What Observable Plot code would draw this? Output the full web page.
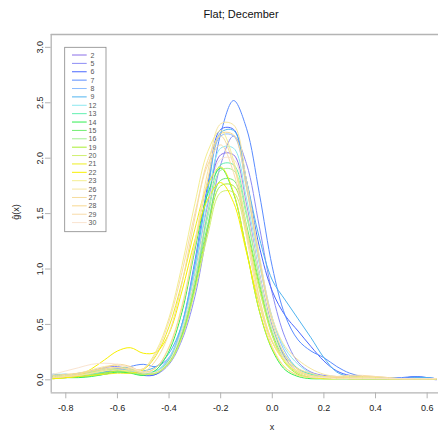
<!DOCTYPE html>
<html><head><meta charset="utf-8">
<script src="https://cdn.jsdelivr.net/npm/d3@7"></script>
<script src="https://cdn.jsdelivr.net/npm/@observablehq/plot@0.6"></script>
<style>
html,body{margin:0;padding:0;background:#fff;overflow:hidden}
</style></head><body><div id="chart"></div>
<script>
const xs = [-0.85,-0.8,-0.75,-0.7,-0.65,-0.6,-0.55,-0.5,-0.45,-0.4,-0.35,-0.3,-0.25,-0.2,-0.15,-0.1,-0.05,0,0.05,0.1,0.15,0.2,0.25,0.3,0.35,0.4,0.45,0.5,0.55,0.6,0.635];

const g2  = [0.02,0.02,0.03,0.05,0.07,0.08,0.07,0.05,0.06,0.18,0.45,0.96,1.58,2.03,2.03,1.58,0.96,0.48,0.2,0.07,0.03,0.02,0.02,0.03,0.02,0.01,0.01,0.01,0.02,0.01,0.01];
const g5  = [0.03,0.04,0.05,0.08,0.11,0.12,0.09,0.05,0.05,0.14,0.36,0.75,1.36,1.94,2.2,1.95,1.38,0.78,0.38,0.16,0.07,0.04,0.03,0.03,0.02,0.01,0.01,0.01,0.01,0.01,0.0];
const g6  = [0.05,0.04,0.03,0.04,0.07,0.1,0.08,0.04,0.05,0.17,0.5,1.07,1.76,2.26,2.26,1.8,1.2,0.8,0.58,0.44,0.3,0.17,0.08,0.04,0.03,0.02,0.01,0.01,0.03,0.02,0.01];
const g7  = [0.04,0.05,0.04,0.04,0.05,0.08,0.12,0.14,0.12,0.2,0.4,0.84,1.55,2.22,2.52,2.27,1.68,1.02,0.58,0.36,0.26,0.2,0.12,0.06,0.03,0.02,0.02,0.02,0.03,0.02,0.01];
const g8  = [0.02,0.03,0.05,0.07,0.09,0.1,0.08,0.06,0.08,0.2,0.5,1.04,1.71,2.2,2.2,1.74,1.1,0.56,0.25,0.1,0.05,0.03,0.02,0.02,0.01,0.01,0.01,0.01,0.01,0.01,0.01];
const g9  = [0.03,0.04,0.06,0.08,0.1,0.09,0.07,0.08,0.12,0.24,0.5,1.02,1.72,2.23,2.25,1.8,1.28,0.9,0.72,0.55,0.38,0.2,0.07,0.03,0.02,0.02,0.02,0.01,0.02,0.02,0.01];
const g12 = [0.05,0.05,0.04,0.04,0.05,0.07,0.08,0.07,0.08,0.19,0.47,0.99,1.62,2.09,2.09,1.64,1.04,0.55,0.28,0.14,0.06,0.03,0.02,0.02,0.01,0.01,0.01,0.01,0.01,0.01,0.01];
const g13 = [0.01,0.02,0.03,0.05,0.07,0.07,0.06,0.05,0.07,0.18,0.44,0.93,1.52,1.94,1.94,1.52,0.94,0.47,0.22,0.1,0.05,0.03,0.02,0.01,0.01,0.01,0.01,0.01,0.01,0.01,0.01];
const g14 = [0.02,0.02,0.02,0.03,0.05,0.07,0.06,0.04,0.09,0.26,0.61,1.17,1.68,1.91,1.68,1.17,0.62,0.27,0.09,0.03,0.01,0.01,0.01,0.01,0.01,0.01,0.01,0.01,0.01,0.01,0.01];
const g15 = [0.03,0.03,0.04,0.06,0.09,0.11,0.1,0.07,0.06,0.16,0.41,0.86,1.4,1.8,1.8,1.4,0.87,0.42,0.18,0.07,0.03,0.02,0.01,0.01,0.01,0.01,0.01,0.01,0.01,0.01,0.01];
const g16 = [0.04,0.04,0.04,0.05,0.06,0.08,0.09,0.07,0.06,0.17,0.43,0.9,1.47,1.89,1.89,1.48,0.92,0.45,0.19,0.07,0.03,0.02,0.02,0.01,0.01,0.01,0.01,0.01,0.01,0.01,0.01];
const g19 = [0.02,0.02,0.03,0.04,0.06,0.08,0.07,0.05,0.06,0.15,0.39,0.83,1.36,1.75,1.75,1.36,0.84,0.4,0.15,0.05,0.02,0.01,0.01,0.01,0.01,0.01,0.01,0.01,0.01,0.01,0.01];
const g20 = [0.02,0.03,0.05,0.07,0.09,0.09,0.07,0.05,0.06,0.15,0.38,0.8,1.31,1.69,1.69,1.31,0.81,0.4,0.16,0.06,0.03,0.02,0.02,0.02,0.03,0.02,0.01,0.01,0.01,0.01,0.01];
const g21 = [0.01,0.02,0.03,0.04,0.05,0.06,0.06,0.09,0.22,0.48,0.88,1.36,1.76,1.92,1.69,1.17,0.62,0.28,0.11,0.04,0.02,0.01,0.01,0.02,0.03,0.02,0.01,0.01,0.01,0.01,0.01];
const g22 = [0.01,0.02,0.04,0.1,0.18,0.26,0.29,0.24,0.25,0.42,0.8,1.26,1.63,1.78,1.6,1.15,0.68,0.34,0.16,0.07,0.03,0.02,0.02,0.01,0.01,0.01,0.01,0.01,0.01,0.01,0.01];
const g23 = [0.02,0.03,0.04,0.06,0.08,0.09,0.08,0.1,0.26,0.56,1.03,1.59,2.06,2.25,1.98,1.37,0.74,0.34,0.16,0.08,0.04,0.03,0.03,0.03,0.02,0.01,0.01,0.01,0.01,0.01,0.01];
const g26 = [0.03,0.04,0.06,0.09,0.12,0.13,0.11,0.06,0.11,0.3,0.67,1.24,1.88,2.31,2.3,1.8,1.12,0.56,0.3,0.18,0.1,0.05,0.03,0.02,0.02,0.02,0.01,0.01,0.01,0.01,0.01];
const g27 = [0.02,0.03,0.05,0.08,0.1,0.11,0.09,0.07,0.18,0.42,0.87,1.46,1.98,2.2,1.94,1.36,0.74,0.35,0.18,0.1,0.06,0.03,0.02,0.02,0.03,0.03,0.02,0.01,0.01,0.01,0.01];
const g28 = [0.04,0.05,0.06,0.08,0.11,0.14,0.12,0.07,0.11,0.29,0.65,1.2,1.81,2.22,2.21,1.73,1.07,0.52,0.22,0.09,0.04,0.02,0.02,0.01,0.01,0.01,0.01,0.01,0.01,0.01,0.01];
const g29 = [0.02,0.03,0.04,0.06,0.09,0.11,0.1,0.1,0.24,0.53,0.97,1.5,1.94,2.12,1.87,1.29,0.69,0.3,0.11,0.04,0.02,0.02,0.03,0.04,0.04,0.03,0.02,0.01,0.01,0.01,0.01];
const g30 = [0.05,0.08,0.11,0.14,0.15,0.14,0.11,0.07,0.07,0.17,0.45,0.94,1.55,1.99,1.99,1.55,0.95,0.46,0.18,0.07,0.03,0.02,0.01,0.01,0.01,0.01,0.01,0.01,0.01,0.01,0.01];

const seriesNames = ["2","5","6","7","8","9","12","13","14","15","16","19","20","21","22","23","26","27","28","29","30"];
const seriesValues = [g2,g5,g6,g7,g8,g9,g12,g13,g14,g15,g16,g19,g20,g21,g22,g23,g26,g27,g28,g29,g30];
const seriesColors = ["#8a6ee8","#8c8cf5","#4a68ff","#5a8cff","#8cbcff","#50b4f0","#8ce8f0","#60f0b0","#30ee50","#70ee70","#a0f090","#a8ee30","#d0f070","#eeee20","#f8f000","#f4ee90","#f6e6a0","#f6dc9c","#f8d890","#f8dca8","#fae4d0"];

const xTicks = [-0.8,-0.6,-0.4,-0.2,0,0.2,0.4,0.6];
const yTicks = [0,0.5,1,1.5,2,2.5,3];
const titleText = "Flat; December";
const xLabel = "x";
const yLabel = "ĝ(x)";

const rows = [];
seriesNames.forEach((s, i) => seriesValues[i].forEach((v, j) => rows.push({s, x: xs[j], y: v})));

const xDomain = [-0.8566, 0.644];
const yDomain = [-0.117, 3.116];
const font = "'Liberation Sans', Arial, Helvetica, sans-serif";
const axisGray = "#b4b4b4";

const svg = Plot.plot({
  width: 438, height: 433,
  marginLeft: 50.7, marginRight: 0, marginTop: 34, marginBottom: 40.7,
  style: {fontFamily: font, background: "#fff", color: "#222", overflow: "visible"},
  x: {domain: xDomain},
  y: {domain: yDomain},
  color: {domain: seriesNames, range: seriesColors},
  marks: [
    Plot.line(rows, {x: "x", y: "y", z: "s", stroke: "s", strokeWidth: 1, curve: "catmull-rom"}),
    Plot.ruleX([xDomain[0]], {stroke: axisGray, strokeWidth: 1.3}),
    Plot.ruleY([yDomain[1]], {stroke: axisGray, strokeWidth: 1.3}),
    Plot.ruleY([yDomain[0]], {stroke: axisGray, strokeWidth: 1.3}),
    Plot.axisX({ticks: xTicks, tickSize: 6, tickPadding: 6, tickFormat: d => d.toFixed(1), fontSize: 9, stroke: axisGray, label: null}),
    Plot.axisY({ticks: yTicks, tickSize: 5.7, tickPadding: 3, tickRotate: -90, tickFormat: d => d.toFixed(1), fontSize: 9, stroke: axisGray, label: null})
  ]
});

const root = d3.select(svg);
root.append("text").attr("x", 241).attr("y", 13.5).attr("text-anchor", "middle").attr("dominant-baseline", "central")
  .attr("font-size", 11).attr("fill", "#111").attr("font-family", font).text(titleText);
root.append("text").attr("x", 272).attr("y", 427).attr("text-anchor", "middle").attr("dominant-baseline", "central")
  .attr("font-size", 9).attr("fill", "#222").attr("font-family", font).text(xLabel);
root.append("text").attr("transform", "translate(16,212) rotate(-90)").attr("text-anchor", "middle").attr("dominant-baseline", "central")
  .attr("font-size", 9).attr("fill", "#222").attr("font-family", font).text(yLabel);

const lg = root.append("g").attr("font-family", font);
lg.append("rect").attr("x", 64.7).attr("y", 47.3).attr("width", 41.3).attr("height", 184.4)
  .attr("fill", "#fff").attr("stroke", "#888").attr("stroke-width", 0.8);
seriesNames.forEach((s, i) => {
  const yy = 55 + i * 8.38;
  lg.append("line").attr("x1", 72).attr("x2", 86.7).attr("y1", yy).attr("y2", yy)
    .attr("stroke", seriesColors[i]).attr("stroke-width", 1);
  lg.append("text").attr("x", 92.5).attr("y", yy).attr("dominant-baseline", "central")
    .attr("font-size", 7).attr("fill", "#555").text(s);
});

document.getElementById("chart").appendChild(svg);
</script></body></html>
